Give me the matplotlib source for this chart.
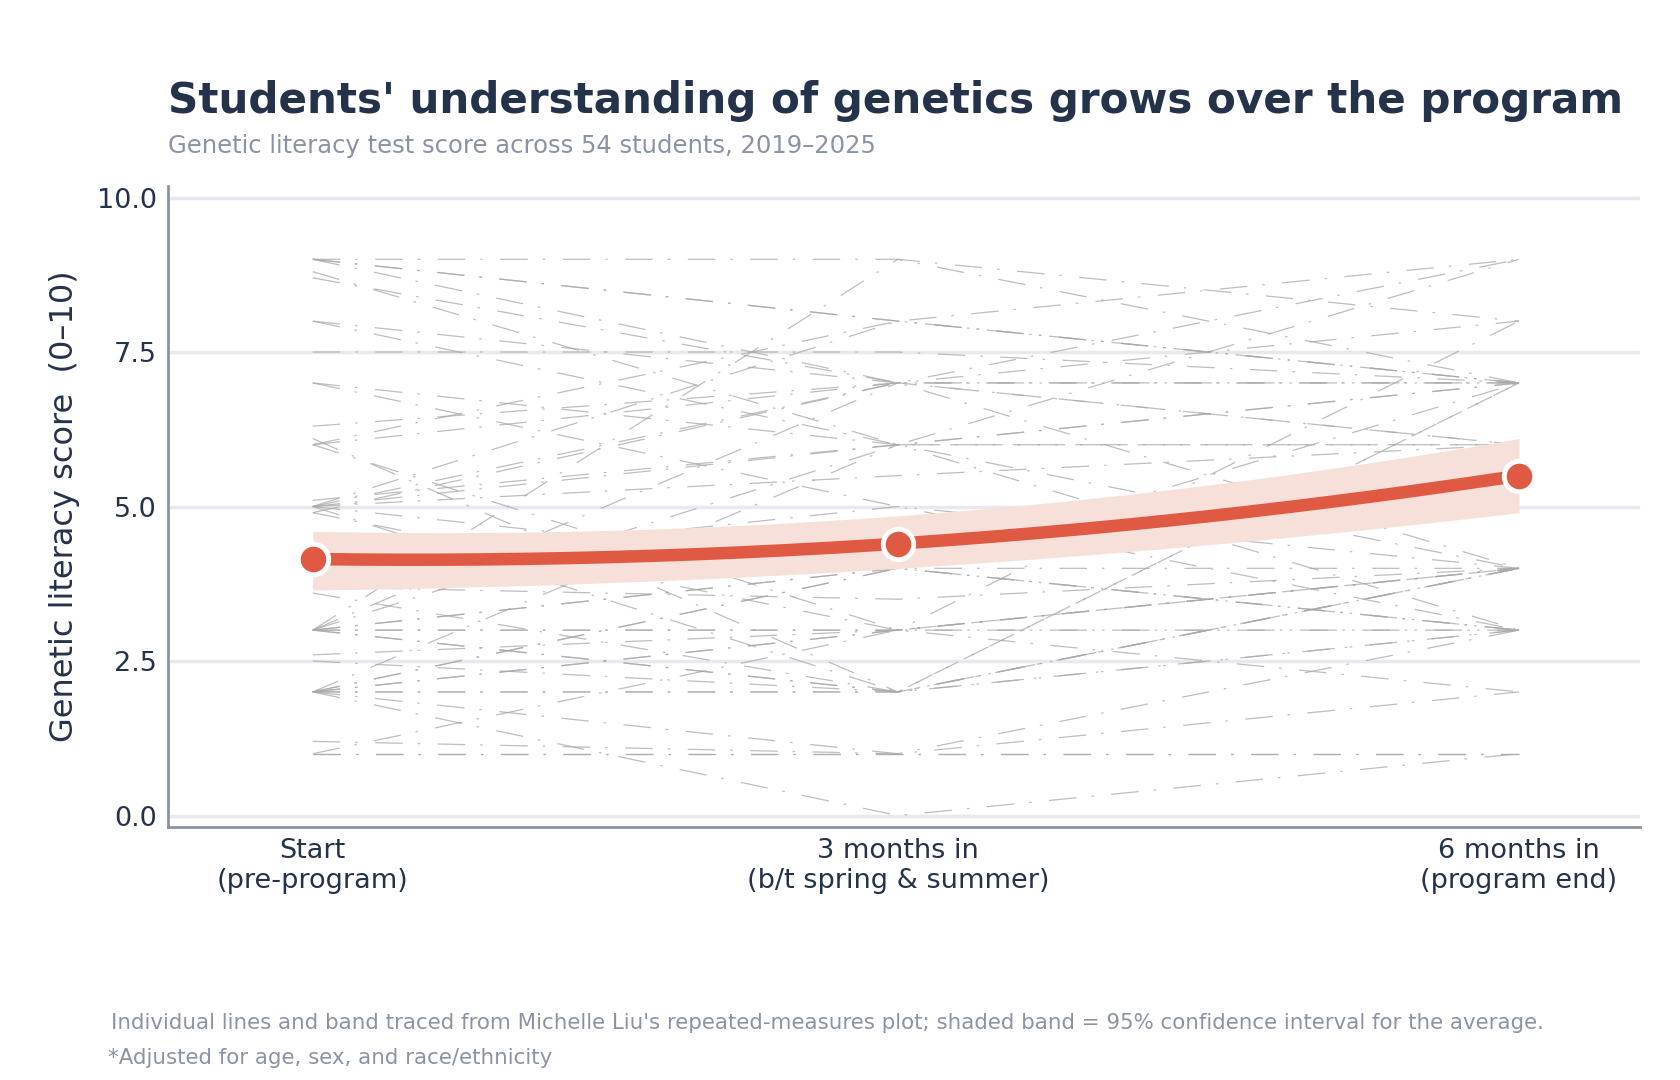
import numpy as np
import matplotlib
matplotlib.use("Agg")
import matplotlib.pyplot as plt

stages = ["Start\n(pre-program)", "3 months in\n(b/t spring & summer)", "6 months in\n(program end)"]
stage_x = [0, 0.97, 2]
mean_score = [4.15, 4.4, 5.5]
ci_low = [3.65, 4.0, 4.9]
ci_high = [4.6, 4.85, 6.1]

# per-student scores (start, 3 months, 6 months)
start = [9, 9, 8.7, 8, 7, 6, 6, 5, 5, 5, 5, 4.9, 3, 3, 3, 3, 3, 3, 3,
         2, 2, 2, 2, 2, 2, 2, 1, 1, 9, 8, 7.5, 6.3, 5.1, 3.6, 2.6, 1.2, 3.7, 6.1,
         4.9, 2.0, 3.0, 7.0, 5.0, 8.8, 2.5, 1.0, 3.0, 6.0, 2.0, 9.0, 4.0, 5.0]
mid = [8, 7, 7, 7, 5, 3, 8, 7, 6, 2, 8, 3, 3, 4, 2, 2, 7, 6, 3,
       2, 4, 2, 3, 0, 6, 1, 1, 3, 9, 6, 7.5, 7, 6, 2, 3, 1, 3.5, 2,
       7, 4, 4, 6, 5.5, 6, 2, 1, 9, 7, 3, 8, 5, 4]
end = [7, 4, 9, 6, 3, 4, 7, 7, 3, 7, 9, 2, 4, 7, 3, 4, 6, 9, 4,
       4, 3, 7, 8, 1, 6, 2, 1, 3, 7, 4, 7, 8, 7, 3, 4, 3, 4, 4,
       7, 3, 4, 7, 6, 6, 4, 1, 8, 7, 3, 7, 4, 3]

fig = plt.figure(figsize=(16.8, 10.8), dpi=100)
ax = fig.add_axes([0.1, 0.234, 0.876, 0.594])

for a, b, c in zip(start, mid, end):
    ax.plot(stage_x, [a, b, c], color="#a8a8a8", lw=0.9, alpha=0.75,
            dashes=(22, 12, 2, 14), zorder=1)

xs = np.linspace(0, 2, 200)
fit = np.polyfit(stage_x, mean_score, 2)
lo_fit = np.polyfit(stage_x, ci_low, 2)
hi_fit = np.polyfit(stage_x, ci_high, 2)
ax.fill_between(xs, np.polyval(lo_fit, xs), np.polyval(hi_fit, xs),
                color="#f8e0da", lw=0, zorder=2)
ax.plot(xs, np.polyval(fit, xs), color="#e05a43", lw=9, solid_capstyle="butt", zorder=3)
ax.scatter(stage_x, mean_score, s=480, color="#e05a43", edgecolor="white",
           linewidth=3.5, zorder=4)

ax.set_xlim(-0.24, 2.2)
ax.set_ylim(-0.19, 10.19)
ax.set_yticks([0, 2.5, 5, 7.5, 10])
ax.set_yticklabels(["0.0", "2.5", "5.0", "7.5", "10.0"])
ax.set_xticks(stage_x)
ax.set_xticklabels(stages)
ax.tick_params(axis="both", labelsize=19.5, colors="#24324a", length=0, pad=8)
ax.grid(axis="y", color="#e8e8f0", lw=2.5, zorder=0)
ax.set_axisbelow(True)
for s in ["top", "right"]:
    ax.spines[s].set_visible(False)
for s in ["left", "bottom"]:
    ax.spines[s].set_color("#8a93a6")
    ax.spines[s].set_linewidth(2)
ax.set_ylabel("Genetic literacy score  (0\u201310)", fontsize=23, color="#24324a", labelpad=12)

fig.text(0.1, 0.895, "Students' understanding of genetics grows over the program",
         fontsize=30.3, fontweight="bold", color="#24324a")
fig.text(0.1, 0.858, "Genetic literacy test score across 54 students, 2019\u20132025",
         fontsize=17.5, color="#8a93a6")
fig.text(0.066, 0.047, "Individual lines and band traced from Michelle Liu's repeated-measures plot; "
         "shaded band = 95% confidence interval for the average.", fontsize=15.4, color="#8a93a6")
fig.text(0.064, 0.015, "*Adjusted for age, sex, and race/ethnicity", fontsize=15.4, color="#8a93a6")

fig.savefig("out.png", dpi=100)
